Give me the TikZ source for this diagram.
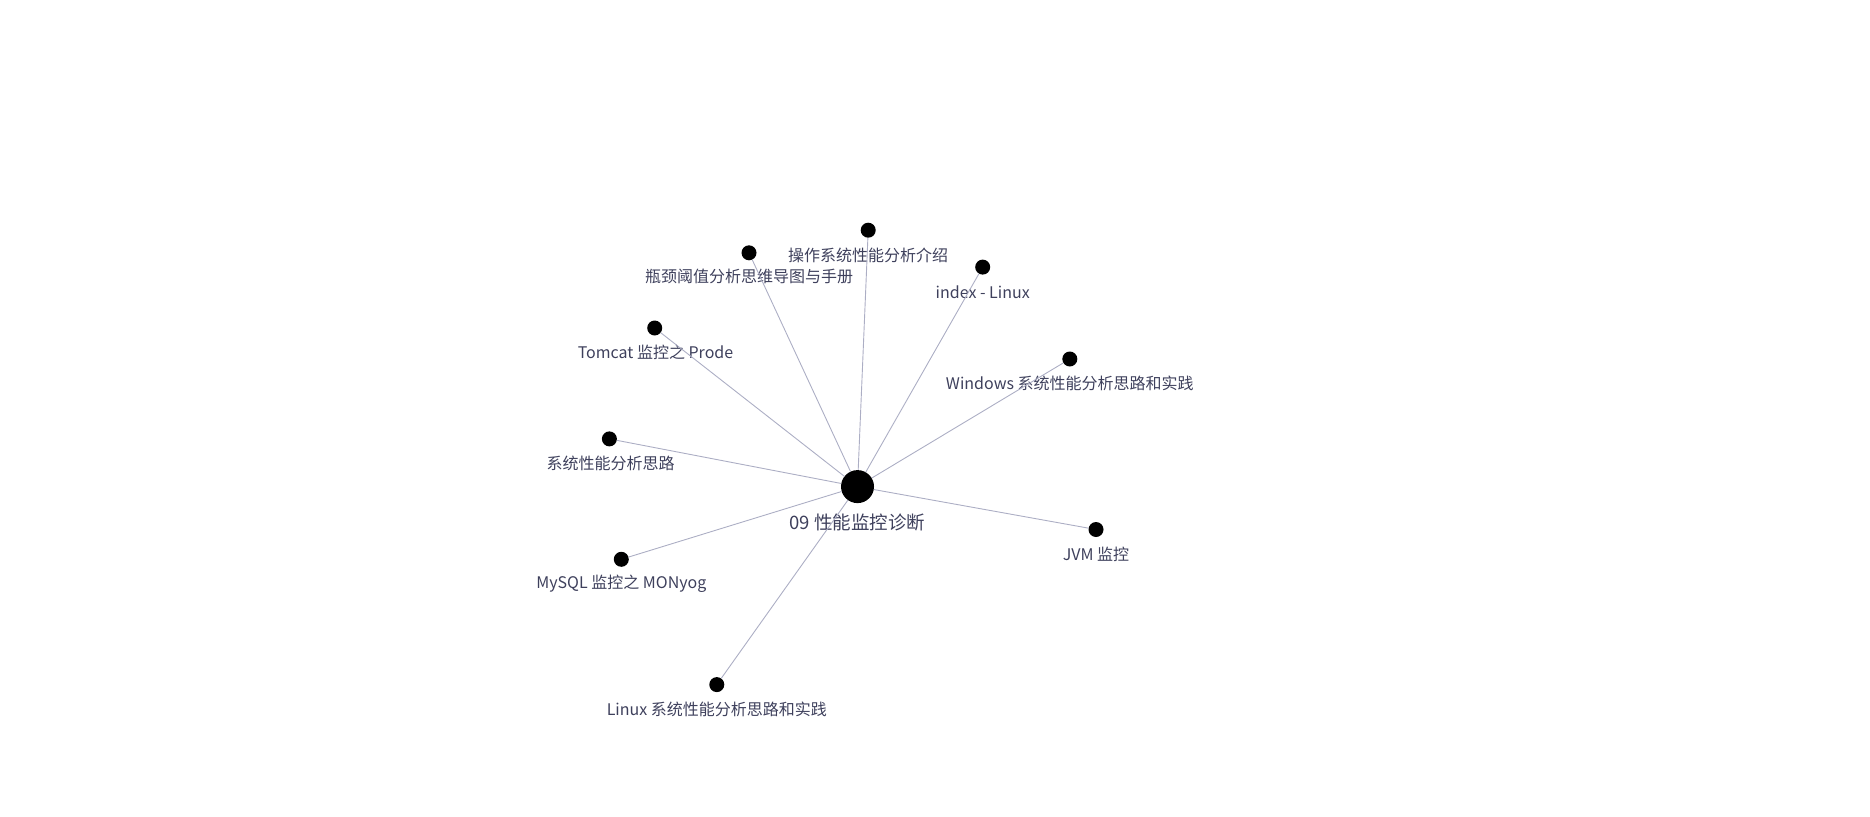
\documentclass[tikz,border=0pt]{standalone}
\usepackage{fontspec}
\setmainfont{Noto Sans CJK SC}
\definecolor{txt}{RGB}{62,64,92}
\definecolor{edge}{RGB}{172,174,196}
\begin{document}
\begin{tikzpicture}[x=1pt,y=-1pt,
  dot/.style={circle,fill=black,inner sep=0pt,minimum size=15pt},
  hub/.style={circle,fill=black,inner sep=0pt,minimum size=33pt},
  lbl/.style={text=txt,font=\fontsize{16}{19}\selectfont,inner sep=0pt},
  hublbl/.style={text=txt,font=\fontsize{18.5}{22}\selectfont,inner sep=0pt},
  link/.style={draw=edge,line width=0.9pt}]
\useasboundingbox (0,0) rectangle (1870,816);
\node[hub] (c) at (857.5,486.6) {};
\node[hublbl] (cl) at (857.5,522.2) {09 性能监控诊断};

\node[dot] (a1) at (868.2,230.2) {};
\node[lbl] (l1) at (868.2,255.0) {操作系统性能分析介绍};
\node[dot] (a2) at (749.0,252.8) {};
\node[lbl] (l2) at (749.0,276.5) {瓶颈阈值分析思维导图与手册};
\node[dot] (a3) at (982.7,267.1) {};
\node[lbl] (l3) at (982.7,292.0) {index - Linux};
\node[dot] (a4) at (654.7,328.0) {};
\node[lbl] (l4) at (655.5,352.8) {Tomcat 监控之 Prode};
\node[dot] (a5) at (1069.8,359.0) {};
\node[lbl] (l5) at (1069.8,383.8) {Windows 系统性能分析思路和实践};
\node[dot] (a6) at (609.4,438.9) {};
\node[lbl] (l6) at (610.5,463.7) {系统性能分析思路};
\node[dot] (a7) at (1096.0,529.5) {};
\node[lbl] (l7) at (1096.0,554.4) {JVM 监控};
\node[dot] (a8) at (621.3,559.3) {};
\node[lbl] (l8) at (621.3,584.2) {MySQL 监控之 MONyog};
\node[dot] (a9) at (716.8,684.6) {};
\node[lbl] (l9) at (716.8,709.4) {Linux 系统性能分析思路和实践};

\foreach \n in {a1,a2,a3,a4,a5,a6,a7,a8,a9}
  \draw[link] (c) -- (\n);
\end{tikzpicture}
\end{document}
